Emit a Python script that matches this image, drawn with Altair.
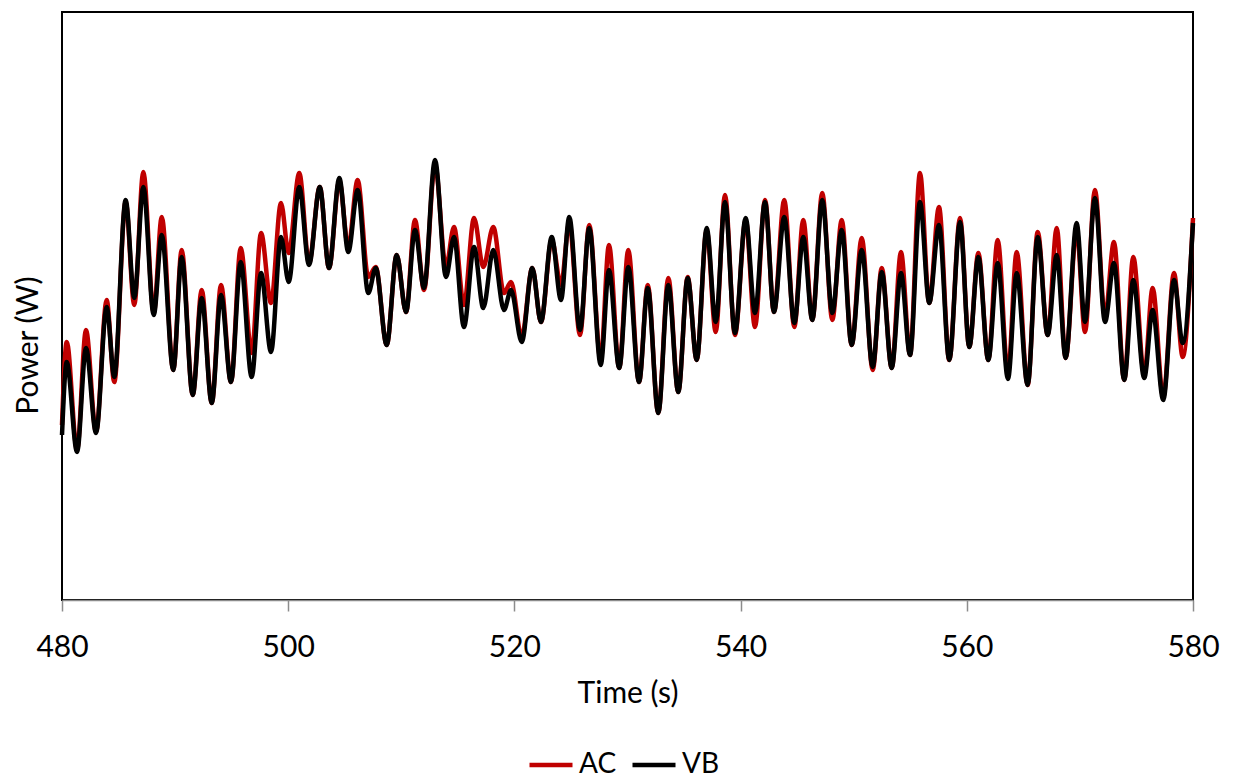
import altair as alt
import pandas as pd

# Extrema (peak / trough) times in seconds
t_ext = [480.00, 480.42, 481.33, 482.12, 483.01, 483.95, 484.62, 485.63, 486.39, 487.19,
         488.11, 488.82, 489.84, 490.58, 491.56, 492.35, 493.24, 494.06, 494.94, 495.80,
         496.77, 497.60, 498.48, 499.36, 500.04, 500.98, 501.84, 502.79, 503.61, 504.52,
         505.31, 506.14, 507.08, 507.74, 508.71, 509.59, 510.42, 511.21, 512.01, 512.98,
         513.95, 514.66, 515.54, 516.43, 517.25, 518.13, 519.08, 519.70, 520.65, 521.58,
         522.35, 523.30, 524.12, 524.85, 525.80, 526.62, 527.63, 528.36, 529.27, 530.07,
         531.02, 531.79, 532.72, 533.61, 534.49, 535.32, 536.12, 537.00, 537.80, 538.62,
         539.50, 540.45, 541.27, 542.16, 542.95, 543.86, 544.75, 545.54, 546.34, 547.22,
         548.11, 548.94, 549.82, 550.71, 551.68, 552.48, 553.36, 554.18, 554.98, 555.86,
         556.68, 557.54, 558.45, 559.40, 560.22, 561.02, 561.90, 562.73, 563.64, 564.41,
         565.38, 566.27, 567.15, 567.95, 568.74, 569.71, 570.45, 571.33, 572.22, 573.01,
         573.92, 574.72, 575.69, 576.43, 577.37, 578.32, 579.09, 580.00]

# Power (arbitrary units, axis unlabeled in the reference)
ac_power = [175, 258, 150, 270, 168, 300, 218, 398, 295, 428,
            287, 383, 230, 350, 205, 310, 197, 315, 218, 352,
            247, 367, 297, 397, 347, 427, 337, 413, 332, 419,
            353, 420, 323, 333, 255, 345, 288, 380, 310, 435,
            333, 373, 295, 382, 333, 373, 307, 318, 263, 332,
            278, 360, 315, 377, 265, 375, 240, 355, 232, 350,
            218, 315, 187, 322, 208, 323, 240, 370, 268, 405,
            265, 380, 273, 400, 288, 400, 273, 380, 280, 407,
            280, 380, 255, 362, 230, 332, 232, 348, 245, 427,
            297, 393, 240, 382, 253, 347, 240, 360, 227, 348,
            215, 368, 265, 372, 242, 370, 268, 410, 283, 358,
            220, 343, 225, 312, 203, 327, 243, 382]

vb_power = [165, 238, 148, 252, 167, 293, 223, 400, 302, 413,
            285, 365, 230, 343, 205, 302, 197, 305, 218, 338,
            223, 327, 248, 363, 318, 413, 335, 413, 332, 422,
            348, 410, 307, 332, 255, 345, 288, 370, 312, 440,
            323, 363, 273, 353, 292, 350, 290, 310, 258, 332,
            278, 363, 300, 383, 270, 372, 235, 330, 232, 333,
            218, 312, 187, 315, 208, 322, 240, 372, 278, 398,
            267, 382, 287, 398, 288, 383, 277, 363, 280, 400,
            287, 370, 255, 350, 233, 328, 232, 327, 245, 398,
            297, 375, 240, 378, 253, 343, 240, 337, 221, 327,
            215, 363, 265, 345, 242, 377, 278, 402, 278, 337,
            220, 320, 222, 290, 200, 320, 257, 377]

series_names = ["AC", "VB"]
series_colors = ["#C00000", "#000000"]

df = pd.concat([
    pd.DataFrame({"time": t_ext, "power": ac_power, "series": "AC"}),
    pd.DataFrame({"time": t_ext, "power": vb_power, "series": "VB"}),
])

FONT = "Lato"
FS = 30

chart = alt.Chart(df).mark_line(interpolate="monotone", strokeWidth=4.5).encode(
    x=alt.X("time:Q",
            scale=alt.Scale(domain=[480, 580], nice=False, zero=False),
            axis=alt.Axis(title="Time (s)", values=[480, 500, 520, 540, 560, 580],
                          format="d", grid=False, labelFontSize=FS, titleFontSize=FS,
                          labelFont=FONT, titleFont=FONT, labelColor="#000000",
                          titleColor="#000000", titleFontWeight="normal",
                          labelFlush=False, labelOverlap=False,
                          domainColor="#8C8C8C", domainWidth=1.5, tickColor="#8C8C8C",
                          tickSize=11, tickWidth=1.5, labelPadding=21, titlePadding=16)),
    y=alt.Y("power:Q",
            scale=alt.Scale(domain=[0, 588], nice=False, zero=False),
            axis=alt.Axis(title="Power (W)", labels=False, ticks=False, domain=False,
                          grid=False, titleFontSize=FS, titleFont=FONT,
                          titleColor="#000000", titleFontWeight="normal",
                          titleX=-34, titleY=333, titleBaseline="middle",
                          titleAngle=270)),
    color=alt.Color("series:N",
                    scale=alt.Scale(domain=series_names, range=series_colors),
                    legend=alt.Legend(title=None, orient="none", direction="horizontal",
                                      legendX=465, legendY=729, symbolType="stroke",
                                      symbolStrokeWidth=4.5, symbolSize=1850,
                                      labelFontSize=28, labelFont=FONT,
                                      labelColor="#000000", labelOffset=4,
                                      columnPadding=6, padding=0)),
    order=alt.Order("time:Q"),
).properties(
    width=1131,
    height=588,
    autosize=alt.AutoSizeParams(type="none"),
    padding={"left": 62, "top": 12, "right": 44, "bottom": 180},
).configure(
    background="#ffffff",
    view=alt.ViewConfig(stroke="#000000", strokeWidth=2),
)

chart.save("out.html", embed_options={"renderer": "svg", "actions": False})
